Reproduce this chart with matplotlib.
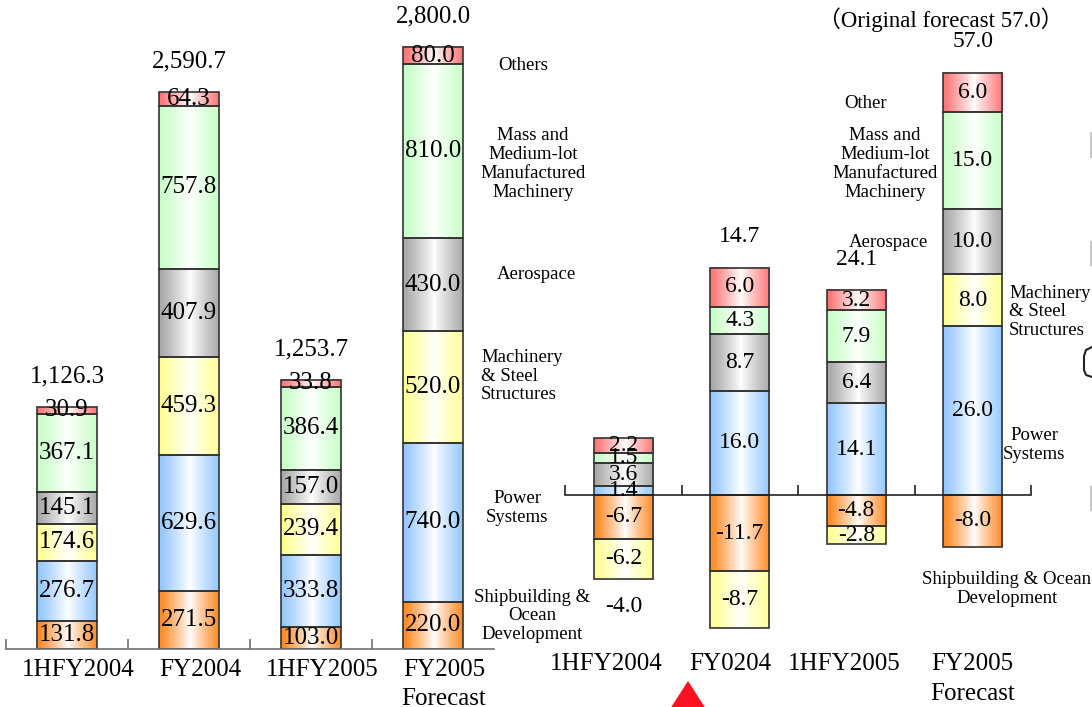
import matplotlib
import numpy as np
from matplotlib import pyplot as plt
from matplotlib.patches import Polygon
from matplotlib.lines import Line2D

matplotlib.use('Agg')

W, H = 1092, 707
SERIF = ['Liberation Serif', 'DejaVu Serif']
plt.rcParams['font.family'] = SERIF

# 数据：左图（受注额）
left_cats = ['1HFY2004', 'FY2004', '1HFY2005', 'FY2005\nForecast']
segments = ['Shipbuilding', 'Power', 'Machinery', 'Aerospace', 'Mass', 'Others']
left_ship = [131.8, 271.5, 103.0, 220.0]
left_power = [276.7, 629.6, 333.8, 740.0]
left_mach = [174.6, 459.3, 239.4, 520.0]
left_aero = [145.1, 407.9, 157.0, 430.0]
left_mass = [367.1, 757.8, 386.4, 810.0]
left_others = [30.9, 64.3, 33.8, 80.0]
left_totals = [1126.3, 2590.7, 1253.7, 2800.0]

# 数据：右图（营业利润）
right_cats = ['1HFY2004', 'FY0204', '1HFY2005', 'FY2005\nForecast']
right_ship = [-6.7, -11.7, -4.8, -8.0]
right_power = [1.4, 16.0, 14.1, 26.0]
right_mach = [-6.2, -8.7, -2.8, 8.0]
right_aero = [3.6, 8.7, 6.4, 10.0]
right_mass = [1.5, 4.3, 7.9, 15.0]
right_others = [2.2, 6.0, 3.2, 6.0]
right_totals = [-4.0, 14.7, 24.1, 57.0]

# 颜色（渐变边缘色）
seg_colors = {
    'Shipbuilding': (255, 140, 40),
    'Power': (150, 200, 255),
    'Machinery': (255, 255, 150),
    'Aerospace': (170, 170, 170),
    'Mass': (200, 255, 200),
    'Others': (255, 120, 120),
}


def px(x, y):
    return x / W, 1 - y / H


def gradient(rgb, n=64):
    u = np.linspace(0, 1, n)
    w = np.clip(np.abs(u - 0.52) / 0.48, 0, 1) ** 0.9
    c = np.array(rgb) / 255.0
    arr = 1 - w[:, None] * (1 - c[None, :])
    return arr[None, :, :]


def draw_segment(ax, x, value, bottom, name, width, fontsize):
    rects = ax.bar([x], [value], bottom=[bottom], width=width,
                   facecolor='none', edgecolor='#333333', linewidth=1.2, zorder=2)
    r = rects[0]
    x0, y0, w, h = r.get_x(), r.get_y(), r.get_width(), r.get_height()
    ax.imshow(gradient(seg_colors[name]), extent=[x0, x0 + w, y0, y0 + h],
              aspect='auto', interpolation='bilinear', zorder=1)
    ax.text(x0 + w / 2, y0 + h / 2, f'{value:.1f}', ha='center', va='center',
            fontsize=fontsize, zorder=3)


def stack(ax, series, width, fontsize):
    tops, bots = [], []
    for i in range(len(series[0][1])):
        pos, neg = 0.0, 0.0
        for name, vals in series:
            v = vals[i]
            if v >= 0:
                draw_segment(ax, i, v, pos, name, width, fontsize)
                pos += v
            else:
                draw_segment(ax, i, v, neg, name, width, fontsize)
                neg += v
        tops.append(pos)
        bots.append(neg)
    return tops, bots


fig = plt.figure(figsize=(W / 100, H / 100), dpi=100)

# 左图
axl = fig.add_axes([6 / W, 58 / H, 488 / W, 649 / H])
left_series = list(zip(segments, [left_ship, left_power, left_mach,
                                  left_aero, left_mass, left_others]))
tops, _ = stack(axl, left_series, 0.49, 18)
for i, t in enumerate(left_totals):
    axl.annotate(f'{t:,.1f}', (i, tops[i]), xytext=(0, 22), textcoords='offset points',
                 ha='center', va='center', fontsize=18)
axl.set_xlim(-0.5, 3.5)
axl.set_ylim(0, 649 / 0.215)
for s in ['top', 'right', 'left']:
    axl.spines[s].set_visible(False)
axl.spines['bottom'].set_color('#707070')
axl.spines['bottom'].set_linewidth(1.2)
axl.set_xticks([-0.5, 0.5, 1.5, 2.5])
axl.tick_params(axis='x', direction='in', length=7, width=1.2, color='#707070',
                labelbottom=False)
axl.set_yticks([])
for i, c in enumerate(left_cats):
    axl.text(i + 0.09, -10 / 0.215, c, ha='center', va='top', fontsize=18,
             linespacing=1.4, clip_on=False)

# 右图
axr = fig.add_axes([565 / W, 0, 466 / W, 1])
axr.set_zorder(1)
axr.patch.set_alpha(0)
right_series = list(zip(segments, [right_ship, right_power, right_mach,
                                   right_aero, right_mass, right_others]))
tops, bots = stack(axr, right_series, 0.51, 17)
for i, t in enumerate(right_totals):
    if t >= 0:
        axr.annotate(f'{t:.1f}', (i, tops[i]), xytext=(0, 22), textcoords='offset points',
                     ha='center', va='center', fontsize=17)
    else:
        axr.annotate(f'{t:.1f}', (i, bots[i]), xytext=(0, -20), textcoords='offset points',
                     ha='center', va='center', fontsize=17)
axr.set_xlim(-0.5, 3.5)
axr.set_ylim(-212 / 6.5, 495 / 6.5)
for s in ['top', 'right', 'left']:
    axr.spines[s].set_visible(False)
axr.spines['bottom'].set_position(('data', 0))
axr.spines['bottom'].set_color('#222222')
axr.spines['bottom'].set_linewidth(1.2)
axr.set_xticks([-0.5, 0.5, 1.5, 2.5, 3.5])
axr.tick_params(axis='x', direction='in', length=7, width=1.2, color='#222222',
                labelbottom=False)
axr.set_yticks([])
right_dx = [-0.15, -0.08, -0.1, 0.0]
for i, c in enumerate(right_cats):
    axr.text(i + right_dx[i], -(653 - 495) / 6.5, c, ha='center', va='top',
             fontsize=18, linespacing=1.45, clip_on=False)

axr.text(*px(941, 20), '（Original forecast 57.0）', transform=fig.transFigure,
         ha='center', va='center', fontsize=16.5,
         family=['Liberation Serif', 'Noto Sans CJK JP'])

# 分类说明文字
left_notes = [
    ('Others', 523, 66, 'center'),
    ('Mass and\nMedium-lot\nManufactured\nMachinery', 533, 164, 'center'),
    ('Aerospace', 536, 274, 'center'),
    ('Machinery\n& Steel\nStructures', 481, 376, 'left'),
    ('Power\nSystems', 517, 508, 'center'),
    ('Shipbuilding &\nOcean\nDevelopment', 532, 616, 'center'),
]
right_notes = [
    ('Other', 866, 104, 'center'),
    ('Mass and\nMedium-lot\nManufactured\nMachinery', 885, 164, 'center'),
    ('Aerospace', 888, 242, 'center'),
    ('Machinery\n& Steel\nStructures', 1009, 312, 'left'),
    ('Power\nSystems', 1034, 445, 'center'),
    ('Shipbuilding & Ocean\nDevelopment', 1007, 589, 'center'),
]
for txt, x, y, ha in left_notes + right_notes:
    axr.text(*px(x, y), txt, transform=fig.transFigure, ha=ha, va='center',
             multialignment=ha, fontsize=13.5, linespacing=1.15, zorder=0.5)

# 底部红色三角与右侧残留图形
fig.patches.append(Polygon([px(688, 681), px(670, 709), px(706, 709)], closed=True,
                           transform=fig.transFigure, facecolor='#FF1020',
                           edgecolor='none', figure=fig))
for y0, y1 in [(133, 157), (242, 265), (487, 510)]:
    fig.lines.append(Line2D([1091 / W, 1091 / W], [1 - y0 / H, 1 - y1 / H],
                            transform=fig.transFigure, color='#C8C8C8', lw=1.5))
bx = [1092, 1086, 1084, 1084, 1086, 1092]
by = [347, 350, 356, 370, 375, 377]
fig.lines.append(Line2D([x / W for x in bx], [1 - y / H for y in by],
                        transform=fig.transFigure, color='#222222', lw=1.5))

plt.savefig('out.png', dpi=100)
plt.close()
